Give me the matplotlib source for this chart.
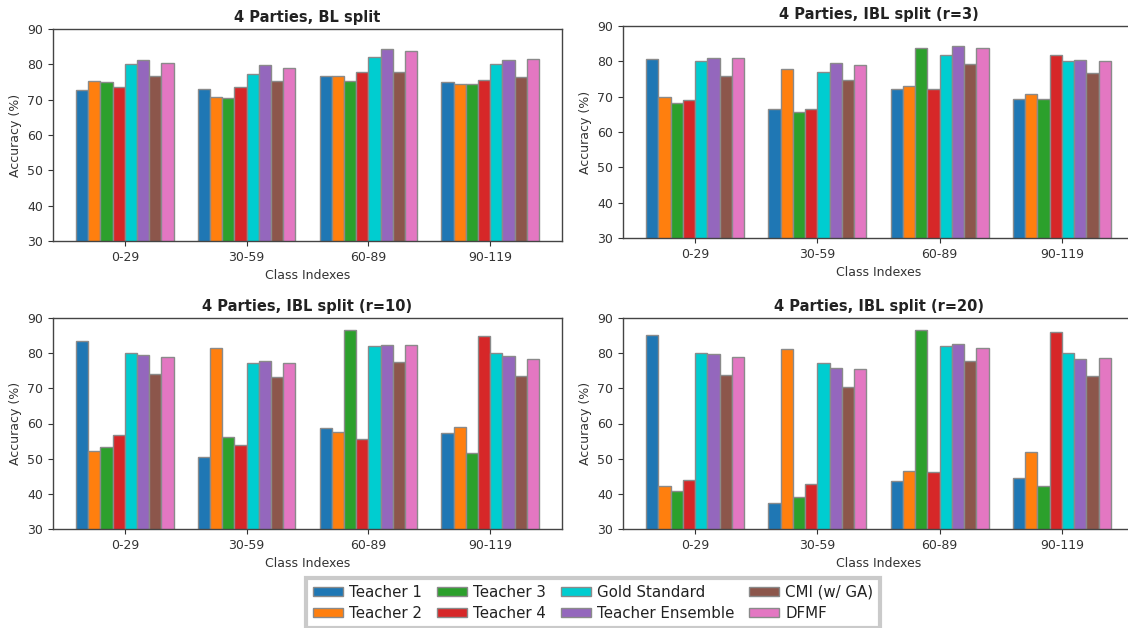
import matplotlib
matplotlib.use("Agg")
import matplotlib.pyplot as plt
import numpy as np

groups = ["0-29", "30-59", "60-89", "90-119"]
series = ["Teacher 1", "Teacher 2", "Teacher 3", "Teacher 4",
          "Gold Standard", "Teacher Ensemble", "CMI (w/ GA)", "DFMF"]
colors = ["#1f77b4", "#ff7f0e", "#2ca02c", "#d62728",
          "#00cdd0", "#9467bd", "#8c564b", "#e377c2"]

titles = ["4 Parties, BL split", "4 Parties, IBL split (r=3)",
          "4 Parties, IBL split (r=10)", "4 Parties, IBL split (r=20)"]

# values per series, per group (0-29, 30-59, 60-89, 90-119)
bl = [
    [72.7, 73.1, 76.7, 75.0],
    [75.3, 70.8, 76.7, 74.4],
    [74.9, 70.5, 75.3, 74.5],
    [73.5, 73.5, 77.9, 75.7],
    [80.0, 77.2, 82.0, 80.0],
    [81.1, 79.7, 84.2, 81.1],
    [76.8, 75.4, 77.9, 76.4],
    [80.4, 79.0, 83.8, 81.5],
]
ibl3 = [
    [80.7, 66.4, 72.3, 69.3],
    [70.0, 77.8, 72.9, 70.7],
    [68.2, 65.7, 83.7, 69.3],
    [69.0, 66.4, 72.3, 81.8],
    [80.0, 77.1, 81.8, 80.0],
    [81.0, 79.6, 84.4, 80.4],
    [75.9, 74.6, 79.2, 76.7],
    [81.0, 78.9, 83.7, 80.0],
]
ibl10 = [
    [83.4, 50.6, 58.6, 57.2],
    [52.3, 81.5, 57.5, 59.0],
    [53.2, 56.1, 86.7, 51.7],
    [56.8, 53.9, 55.7, 84.8],
    [80.0, 77.2, 81.9, 80.0],
    [79.4, 77.9, 82.3, 79.3],
    [74.2, 73.1, 77.5, 73.5],
    [79.0, 77.2, 82.3, 78.2],
]
ibl20 = [
    [85.2, 37.4, 43.6, 44.6],
    [42.1, 81.1, 46.5, 52.0],
    [40.7, 39.2, 86.7, 42.1],
    [43.9, 42.9, 46.2, 86.0],
    [80.0, 77.2, 81.9, 80.0],
    [79.7, 75.7, 82.6, 78.3],
    [73.9, 70.5, 77.9, 73.5],
    [79.0, 75.4, 81.5, 78.6],
]
panels = [bl, ibl3, ibl10, ibl20]

W, H = 1128, 628
fig = plt.figure(figsize=(W / 100, H / 100), dpi=100)

# axes boxes in pixels: (left, top, right, bottom)
boxes = [(53, 29, 562, 241), (623, 26, 1134, 238),
         (53, 318, 562, 529), (623, 318, 1134, 529)]

text_color = "#222222"
x = np.arange(len(groups))
bw = 0.1
handles = None
for data, title, (l, t, r, b) in zip(panels, titles, boxes):
    ax = fig.add_axes([l / W, 1 - b / H, (r - l) / W, (b - t) / H])
    hs = []
    for i, (vals, c, name) in enumerate(zip(data, colors, series)):
        h = ax.bar(x + (i - 3.5) * bw, vals, width=bw, color=c,
                   edgecolor="#8a8a8a", linewidth=1.0, label=name)
        hs.append(h)
    handles = hs
    ax.set_ylim(30, 90)
    ax.set_yticks([30, 40, 50, 60, 70, 80, 90])
    ax.set_xticks(x)
    ax.set_xticklabels(groups)
    ax.set_title(title, fontsize=10.5, fontweight="bold", color=text_color, pad=5)
    ax.set_xlabel("Class Indexes", fontsize=9, color="#333333")
    ax.set_ylabel("Accuracy (%)", fontsize=9, color="#333333")
    ax.tick_params(labelsize=9, colors="#333333")
    for s in ax.spines.values():
        s.set_color("#444444")
        s.set_linewidth(1.0)

leg = fig.legend(handles, series, loc="lower center", ncol=4,
                 bbox_to_anchor=(593 / W, 0.5 / H), fontsize=10.8,
                 frameon=True, fancybox=False, handlelength=2.0,
                 handleheight=0.55,
                 handletextpad=0.4, columnspacing=1.0,
                 labelspacing=0.4, borderpad=0.45, borderaxespad=0.0)
frame = leg.get_frame()
frame.set_edgecolor("#bdbdbd")
frame.set_linewidth(3)
for txt in leg.get_texts():
    txt.set_color(text_color)

fig.savefig("out.png", dpi=100)
